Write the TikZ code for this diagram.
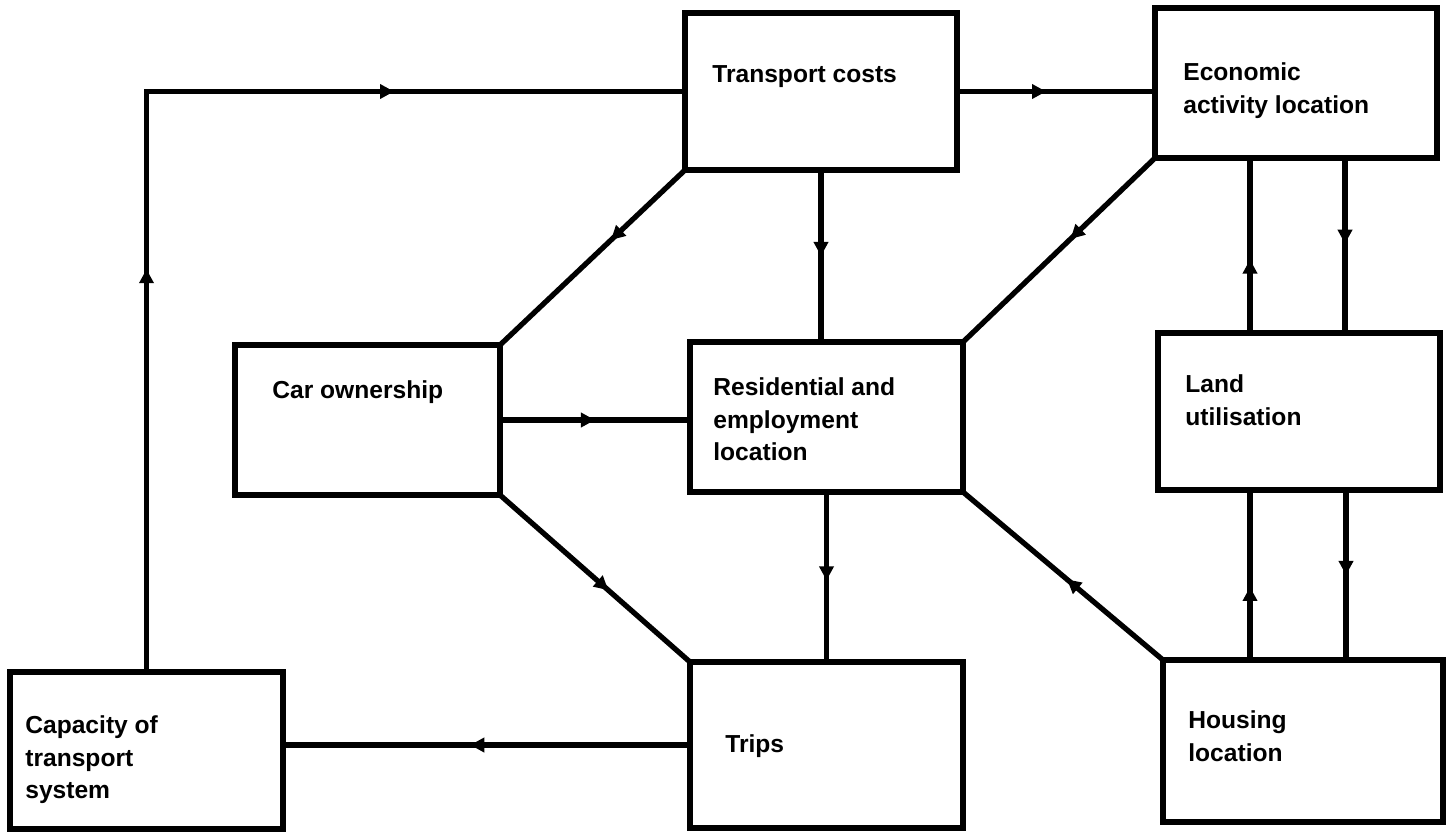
\documentclass[tikz,border=0pt]{standalone}
\usepackage{fontspec}
\setmainfont{Liberation Sans}
\usetikzlibrary{arrows.meta,decorations.markings,fit,calc,positioning}

\begin{document}
\begin{tikzpicture}[x=0.02cm, y=-0.02cm,
    box/.style={draw, line width=3pt, inner sep=0pt, outer sep=0pt},
    txt/.style={anchor=north west, inner sep=0pt, align=left,
      font=\fontsize{14}{18.7}\selectfont\bfseries},
    link/.style={line width=3pt, postaction={decorate},
      decoration={markings, mark=at position #1 with {\arrow{Triangle[length=8pt,width=8pt]}}}},
    linktwo/.style 2 args={line width=3pt, postaction={decorate},
      decoration={markings,
        mark=at position #1 with {\arrow{Triangle[length=8pt,width=8pt]}},
        mark=at position #2 with {\arrow{Triangle[length=8pt,width=8pt]}}}}]
  \useasboundingbox (0,0) rectangle (1452,833);

  % boxes
  \node (tc) [box, fit={(685,13) (957,170)}] {};
  \node (ec) [box, fit={(1155,8) (1437,158)}] {};
  \node (co) [box, fit={(235,345) (500,495)}] {};
  \node (re) [box, fit={(690,342) (963,492)}] {};
  \node (lu) [box, fit={(1158,333) (1440,490)}] {};
  \node (cap) [box, fit={(10,672) (283,829)}] {};
  \node (tr) [box, fit={(690,662) (963,828)}] {};
  \node (ho) [box, fit={(1163,660) (1443,822)}] {};

  % texts
  \node (tct) [txt] at (712,65) {Transport costs};
  \node (ect) [txt] at (1183,62) {Economic\\activity location};
  \node (cot) [txt] at (272,380) {Car ownership};
  \node (ret) [txt] at (713,377) {Residential and\\employment\\location};
  \node (lut) [txt] at (1185,374) {Land\\utilisation};
  \node (capt) [txt] at (25,715) {Capacity of\\transport\\system};
  \node (trt) [txt] at (725,734) {Trips};
  \node (hot) [txt] at (1188,710) {Housing\\location};

  % connectors
  \draw[linktwo={0.36}{0.74}] (cap.north) |- (tc.west);
  \draw[link=0.45] (tc.east) -- (tc.east -| ec.west);
  \draw[link=0.4] (tc.south west) -- (co.north east);
  \draw[link=0.5] (tc.south) -- (tc.south |- re.north);
  \draw[link=0.44] (ec.south west) -- (re.north east);
  \draw[link=0.42] ($(lu.north)+(-49,0)$) coordinate (lu1) -- (lu1 |- ec.south);
  \draw[link=0.49] ($(ec.south)+(49,0)$) coordinate (ec1) -- (ec1 |- lu.north);
  \draw[link=0.43] ($(ho.north)+(-53,0)$) coordinate (ho1) -- (ho1 |- lu.south);
  \draw[link=0.5] ($(lu.south)+(47,0)$) coordinate (lu2) -- (lu2 |- ho.north);
  \draw[link=0.5] (co.east) -- (co.east -| re.west);
  \draw[link=0.57] (co.south east) -- (tr.north west);
  \draw[link=0.52] (re.south) -- (tr.north);
  \draw[link=0.48] (ho.north west) -- (re.south east);
  \draw[link=0.54] (tr.west) -- (tr.west -| cap.east);
\end{tikzpicture}
\end{document}
